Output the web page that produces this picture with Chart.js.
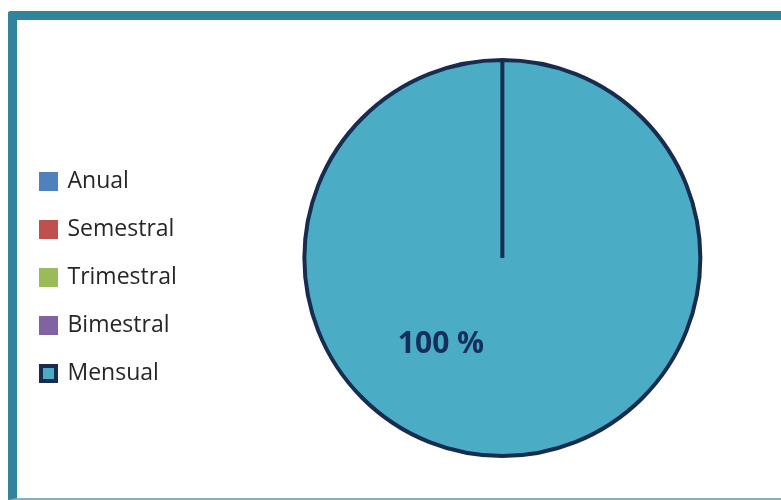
<!DOCTYPE html>
<html>
<head>
<meta charset="utf-8">
<script src="https://cdn.jsdelivr.net/npm/chart.js@4/dist/chart.umd.min.js"></script>
<style>
  html, body { margin: 0; padding: 0; background: #ffffff; }
  #wrap { position: relative; width: 781px; height: 500px; overflow: hidden; background: #ffffff; }
  #frame {
    position: absolute; left: 8px; top: 11px; width: 900px; height: 478px;
    border-left: 9px solid #31849B; border-top: 9px solid #31849B;
    border-bottom: 2px solid #7FB3C2; border-top-left-radius: 3px;
    background: #ffffff;
  }
  #chart { position: absolute; left: 0; top: 0; }
</style>
</head>
<body>
<div id="wrap">
  <div id="frame"></div>
  <canvas id="chart" width="860" height="500"></canvas>
</div>
<script>
// Frequency categories and their share of answers (percent)
const categories = ['Anual', 'Semestral', 'Trimestral', 'Bimestral', 'Mensual'];
const shares = [0, 0, 0, 0, 100];
const fillColors = ['#4F81BD', '#C0504D', '#9BBB59', '#8064A2', '#4BACC6'];
const edgeColors = ['#4F81BD', '#C0504D', '#9BBB59', '#8064A2', '#172C4E'];

// Writes "<value> %" inside every non-empty slice
const sliceLabels = {
  id: 'sliceLabels',
  afterDatasetsDraw(chart) {
    const ctx = chart.ctx;
    const meta = chart.getDatasetMeta(0);
    meta.data.forEach((arc, i) => {
      const v = shares[i];
      if (!v) return;
      const r = arc.outerRadius;
      ctx.save();
      ctx.font = 'bold 30px "Open Sans", sans-serif';
      ctx.fillStyle = '#142F5C';
      ctx.textAlign = 'center';
      ctx.textBaseline = 'middle';
      ctx.fillText(v + ' %', arc.x - 0.31 * r, arc.y + 0.435 * r);
      ctx.restore();
    });
  }
};

new Chart(document.getElementById('chart'), {
  type: 'pie',
  data: {
    labels: categories,
    datasets: [{
      data: shares,
      backgroundColor: fillColors,
      borderColor: edgeColors,
      borderWidth: 4
    }]
  },
  options: {
    responsive: false,
    animation: false,
    layout: { padding: { top: 58, bottom: 42, left: 16, right: 42 } },
    plugins: {
      tooltip: { enabled: false },
      legend: {
        position: 'left',
        title: {
          display: true,
          text: ' ',
          font: { size: 10 },
          padding: { top: 27, bottom: 0 }
        },
        labels: {
          font: { family: '"Open Sans", sans-serif', size: 23 },
          color: '#262626',
          boxWidth: 15,
          boxHeight: 15,
          padding: 25
        }
      }
    }
  },
  plugins: [sliceLabels]
});
</script>
</body>
</html>
